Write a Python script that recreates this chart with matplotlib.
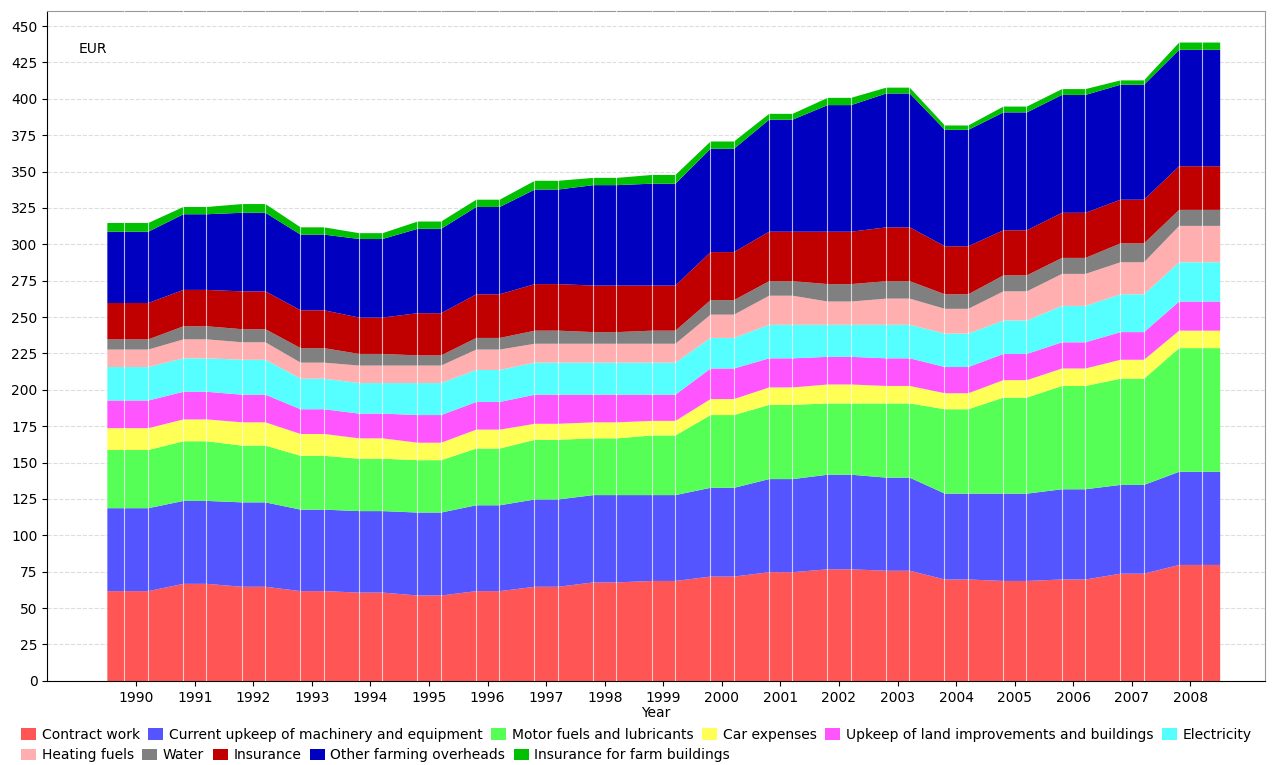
import matplotlib
matplotlib.use("Agg")
import matplotlib.pyplot as plt
import numpy as np

years = list(range(1990, 2009))
names = ["Contract work", "Current upkeep of machinery and equipment", "Motor fuels and lubricants",
         "Car expenses", "Upkeep of land improvements and buildings", "Electricity",
         "Heating fuels", "Water", "Insurance", "Other farming overheads", "Insurance for farm buildings"]
colors = ["#FF5555", "#5555FF", "#55FF55", "#FFFF55", "#FF55FF", "#55FFFF",
          "#FFAFAF", "#808080", "#C00000", "#0000C0", "#00C000"]

# cumulative tops
cum = [
    [62, 67, 65, 62, 61, 59, 62, 65, 68, 69, 72, 75, 77, 76, 70, 69, 70, 74, 80],
    [119, 124, 123, 118, 117, 116, 121, 125, 128, 128, 133, 139, 142, 140, 129, 129, 132, 135, 144],
    [159, 165, 162, 155, 153, 152, 160, 166, 167, 169, 183, 190, 191, 191, 187, 195, 203, 208, 229],
    [174, 180, 178, 170, 167, 164, 173, 177, 178, 179, 194, 202, 204, 203, 198, 207, 215, 221, 241],
    [193, 199, 197, 187, 184, 183, 192, 197, 197, 197, 215, 222, 223, 222, 216, 225, 233, 240, 261],
    [216, 222, 221, 208, 205, 205, 214, 219, 219, 219, 236, 245, 245, 245, 239, 248, 258, 266, 288],
    [228, 235, 233, 219, 217, 217, 228, 232, 232, 232, 252, 265, 261, 263, 256, 268, 280, 288, 313],
    [235, 244, 242, 229, 225, 224, 236, 241, 240, 241, 262, 275, 273, 275, 266, 279, 291, 301, 324],
    [260, 269, 268, 255, 250, 253, 266, 273, 272, 272, 295, 309, 309, 312, 299, 310, 322, 331, 354],
    [309, 321, 322, 307, 304, 311, 326, 338, 341, 342, 366, 386, 396, 404, 379, 391, 403, 410, 434],
    [315, 326, 328, 312, 308, 316, 331, 344, 346, 348, 371, 390, 401, 408, 382, 395, 407, 413, 439],
]

w = 0.2
xs = []
for i, y in enumerate(years):
    lo = y - 0.5 if i == 0 else y - w
    hi = y + 0.5 if i == len(years) - 1 else y + w
    xs += [lo, hi]
xs = np.array(xs)

fig = plt.figure(figsize=(12.73, 7.65), dpi=100)
ax = fig.add_axes([0.037, 0.11, 0.957, 0.875])
prev = np.zeros(len(xs))
handles = []
for name, c, top in zip(names, colors, cum):
    t = np.repeat(top, 2).astype(float)
    handles.append(ax.fill_between(xs, prev, t, color=c, label=name, lw=0, zorder=2))
    prev = t
for y in years:
    ax.axvline(y - w, color="white", lw=0.8, alpha=0.7, zorder=3)
    ax.axvline(y + w, color="white", lw=0.8, alpha=0.7, zorder=3)

ax.set_xlim(1988.48, 2009.28)
ax.set_ylim(0, 460)
ax.set_yticks(range(0, 451, 25))
ax.set_xticks(years)
ax.tick_params(labelsize=10)
ax.yaxis.grid(True, ls="--", color="#dddddd", lw=0.8, zorder=0)
ax.set_axisbelow(True)
for s in ["top", "right"]:
    ax.spines[s].set_color("#999999")
ax.set_xlabel("Year", fontsize=10, labelpad=1)
ax.text(0.026, 0.955, "EUR", transform=ax.transAxes, fontsize=10, va="top")
kw = dict(frameon=False, fontsize=10, handlelength=1.1, handleheight=0.9,
          columnspacing=0.6, handletextpad=0.4, borderaxespad=0)
fig.legend(handles[:6], names[:6], loc="upper left", bbox_to_anchor=(0.012, 0.056), ncol=6, **kw)
fig.legend(handles[6:], names[6:], loc="upper left", bbox_to_anchor=(0.012, 0.029), ncol=5, **kw)
fig.savefig("out.png")
